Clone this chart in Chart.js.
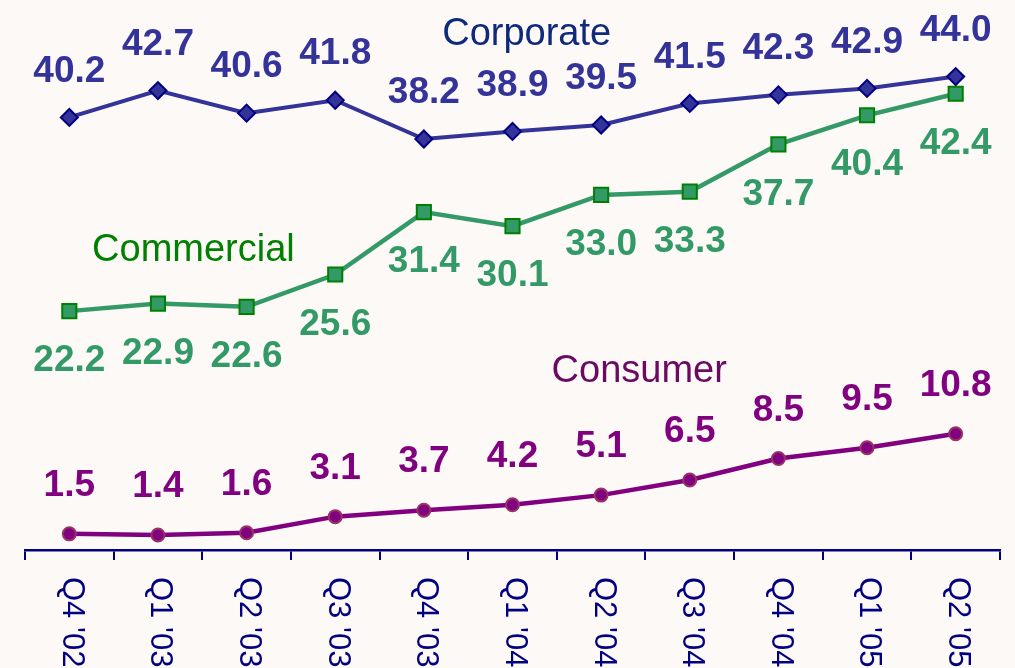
<!DOCTYPE html>
<html>
<head>
<meta charset="utf-8">
<script src="https://cdn.jsdelivr.net/npm/chart.js"></script>
<style>
  html, body { margin: 0; padding: 0; background: #fdf9f6; }
  #wrap { width: 1015px; height: 668px; }
</style>
</head>
<body>
<div id="wrap"><canvas id="segments-chart" width="1015" height="668"></canvas></div>
<script>
const quarters = ["Q4 '02", "Q1 '03", "Q2 '03", "Q3 '03", "Q4 '03", "Q1 '04", "Q2 '04", "Q3 '04", "Q4 '04", "Q1 '05", "Q2 '05"];
const corporate = [40.2, 42.7, 40.6, 41.8, 38.2, 38.9, 39.5, 41.5, 42.3, 42.9, 44.0];
const commercial = [22.2, 22.9, 22.6, 25.6, 31.4, 30.1, 33.0, 33.3, 37.7, 40.4, 42.4];
const consumer = [1.5, 1.4, 1.6, 3.1, 3.7, 4.2, 5.1, 6.5, 8.5, 9.5, 10.8];

const FONT = '"Liberation Sans", Arial, sans-serif';

// value labels over / under each point
const pointLabels = {
    id: 'pointLabels',
    afterDatasetsDraw(chart, args, opts) {
        const ctx = chart.ctx;
        ctx.save();
        ctx.font = 'bold 37px ' + FONT;
        ctx.textAlign = 'center';
        ctx.textBaseline = 'middle';
        chart.data.datasets.forEach((ds, i) => {
            const meta = chart.getDatasetMeta(i);
            ctx.fillStyle = ds.labelColor;
            meta.data.forEach((pt, j) => {
                ctx.fillText(ds.data[j].toFixed(1), pt.x, pt.y + ds.labelOffset);
            });
        });
        ctx.restore();
    }
};

// series names written inside the plot
const seriesNames = {
    id: 'seriesNames',
    afterDatasetsDraw(chart) {
        const ctx = chart.ctx;
        const xs = chart.scales.x, ys = chart.scales.y;
        ctx.save();
        ctx.font = '38px ' + FONT;
        ctx.textAlign = 'center';
        ctx.textBaseline = 'alphabetic';
        chart.data.datasets.forEach(ds => {
            ctx.fillStyle = ds.nameColor;
            ctx.fillText(ds.label, xs.getPixelForValue(ds.namePos[0]), ys.getPixelForValue(ds.namePos[1]));
        });
        ctx.restore();
    }
};

// rotated quarter labels (reading downwards)
const quarterLabels = {
    id: 'quarterLabels',
    afterDraw(chart) {
        const ctx = chart.ctx;
        const xs = chart.scales.x;
        ctx.save();
        ctx.font = '31px ' + FONT;
        ctx.fillStyle = '#000080';
        ctx.textAlign = 'left';
        ctx.textBaseline = 'middle';
        chart.data.labels.forEach((lab, i) => {
            ctx.save();
            ctx.translate(xs.getPixelForTick(i) + 2, xs.top + 27);
            ctx.rotate(Math.PI / 2);
            ctx.fillText(lab, 0, 0);
            ctx.restore();
        });
        ctx.restore();
    }
};

new Chart(document.getElementById('segments-chart'), {
    type: 'line',
    data: {
        labels: quarters,
        datasets: [{
            label: 'Corporate',
            data: corporate,
            borderColor: '#333399',
            borderWidth: 4,
            pointStyle: 'rectRot',
            pointRadius: 8.5,
            pointBorderWidth: 2,
            pointBackgroundColor: '#333399',
            pointBorderColor: '#000080',
            labelColor: '#333399',
            labelOffset: -46,
            nameColor: '#0f2a7c',
            namePos: [5.16, 46.9]
        }, {
            label: 'Commercial',
            data: commercial,
            borderColor: '#339966',
            borderWidth: 4.5,
            pointStyle: 'rect',
            pointRadius: 10,
            pointBorderWidth: 2,
            pointBackgroundColor: '#339966',
            pointBorderColor: '#008000',
            labelColor: '#339966',
            labelOffset: 50,
            nameColor: '#008000',
            namePos: [1.40, 26.9]
        }, {
            label: 'Consumer',
            data: consumer,
            borderColor: '#800080',
            borderWidth: 4.5,
            pointStyle: 'circle',
            pointRadius: 6.5,
            pointBorderWidth: 2,
            pointBackgroundColor: '#800080',
            pointBorderColor: '#993366',
            labelColor: '#800080',
            labelOffset: -48,
            nameColor: '#6a0a62',
            namePos: [6.43, 15.6]
        }]
    },
    options: {
        responsive: false,
        animation: false,
        layout: { padding: { left: 25, right: 15, top: 5.5, bottom: 0 } },
        plugins: {
            legend: { display: false },
            title: { display: false },
            tooltip: { enabled: false }
        },
        scales: {
            x: {
                offset: true,
                grid: {
                    offset: true,
                    drawOnChartArea: false,
                    drawTicks: true,
                    tickLength: 10,
                    color: '#000080',
                    lineWidth: 2
                },
                border: { color: '#000080', width: 2.5 },
                ticks: { display: false },
                afterFit(scale) { scale.height = 118; }
            },
            y: {
                display: false,
                min: 0,
                max: 50
            }
        }
    },
    plugins: [pointLabels, seriesNames, quarterLabels]
});
</script>
</body>
</html>
